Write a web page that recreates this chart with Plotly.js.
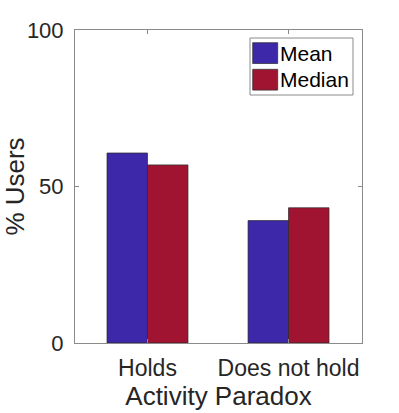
<!DOCTYPE html>
<html>
<head>
<meta charset="utf-8">
<script src="https://cdn.plot.ly/plotly-3.0.1.min.js"></script>
<style>
  html, body { margin: 0; padding: 0; background: #fff; }
  #chart { width: 399px; height: 413px; }
</style>
</head>
<body>
<div id="chart"></div>
<script>
const categories = ['Holds', 'Does not hold'];
const seriesNames = ['Mean', 'Median'];
const meanValues = [60.7, 39.1];
const medianValues = [56.9, 43.2];
const yTicks = [0, 50, 100];

const colors = {
  mean: '#3c28a8',   // blue
  median: '#a11431', // crimson
  text: '#262626',
  axis: '#8a8a8a'
};

const font = 'Liberation Sans, Arial, Helvetica, sans-serif';

// plot area in pixels, used to place the hand made legend box
const W = 399, H = 413;
const margin = { l: 75, r: 37, t: 30, b: 70 };
const plotW = W - margin.l - margin.r;
const plotH = H - margin.t - margin.b;
function px( x ) { return (x - margin.l) / plotW; }
function py( y ) { return (H - margin.b - y) / plotH; }

function makeTrace( name, values, color ) {
  return {
    type: 'bar',
    name: name,
    x: categories,
    y: values,
    marker: { color: color, line: { color: '#2a2a2a', width: 0.7 } },
    hoverinfo: 'y',
    showlegend: false
  };
}

const data = [
  makeTrace(seriesNames[0], meanValues, colors.mean),
  makeTrace(seriesNames[1], medianValues, colors.median)
];

// MATLAB style legend: box, square swatches, text
const shapes = [{
  type: 'rect', xref: 'paper', yref: 'paper',
  x0: px(250), x1: px(353), y0: py(95), y1: py(38),
  fillcolor: '#fff', line: { color: colors.axis, width: 1 }
}];
const annotations = [];

data.forEach( ( trace, i ) => {
  const top = 42.7 + i * 26.6;
  shapes.push({
    type: 'rect', xref: 'paper', yref: 'paper',
    x0: px(252.7), x1: px(277.7), y0: py(top + 20.8), y1: py(top),
    fillcolor: trace.marker.color, line: { color: '#2a2a2a', width: 0.7 }
  });
  annotations.push({
    xref: 'paper', yref: 'paper',
    x: px(278), y: py(top + 10.6),
    xanchor: 'left', yanchor: 'middle',
    text: trace.name, showarrow: false,
    font: { family: font, size: 21, color: '#000' }
  });
});

const axisCommon = {
  showline: true,
  linecolor: colors.axis,
  linewidth: 1,
  mirror: 'ticks',
  ticks: 'inside',
  ticklen: 4,
  tickcolor: colors.axis,
  showgrid: false,
  zeroline: false
};

const layout = {
  width: W,
  height: H,
  margin: margin,
  paper_bgcolor: '#fff',
  plot_bgcolor: '#fff',
  barmode: 'group',
  bargap: 0.426,
  bargroupgap: 0,
  font: { family: font, color: colors.text },
  showlegend: false,
  shapes: shapes,
  annotations: annotations,
  xaxis: Object.assign({}, axisCommon, {
    type: 'category',
    range: [-0.514, 1.521],
    tickfont: { family: font, size: 23, color: colors.text },
    ticklabelstandoff: 4,
    title: { text: 'Activity Paradox', font: { family: font, size: 26, color: colors.text }, standoff: 4 }
  }),
  yaxis: Object.assign({}, axisCommon, {
    range: [0, 100],
    tickvals: yTicks,
    ticktext: yTicks.map(String),
    tickfont: { family: font, size: 22, color: colors.text },
    ticklabelstandoff: 6,
    title: { text: '% Users', font: { family: font, size: 26, color: colors.text }, standoff: 3 }
  })
};

Plotly.newPlot('chart', data, layout, { displayModeBar: false, staticPlot: true });
</script>
</body>
</html>
